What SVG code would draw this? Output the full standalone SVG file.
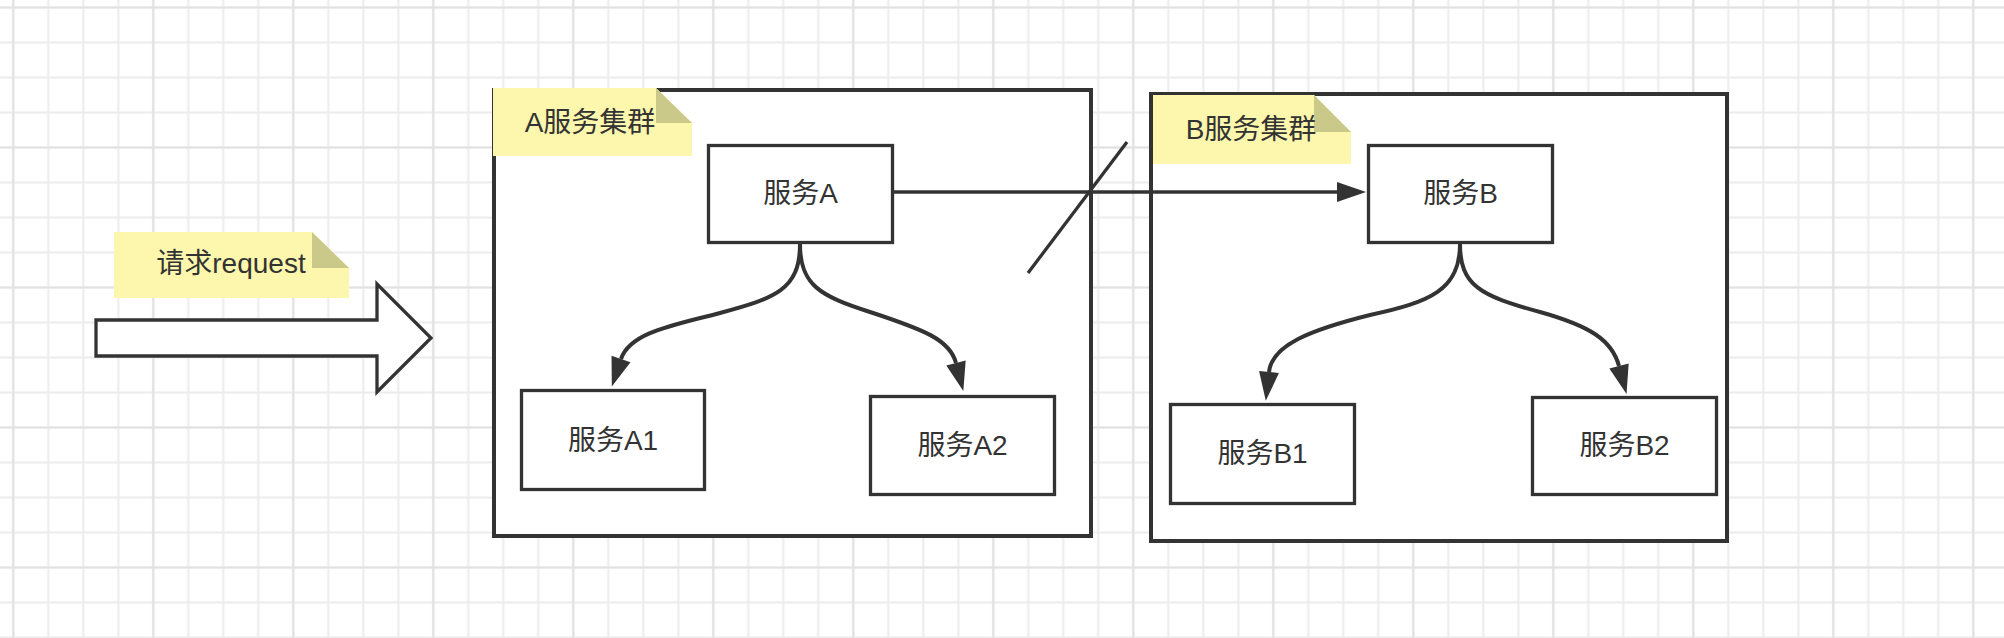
<svg xmlns="http://www.w3.org/2000/svg" width="2004" height="638" viewBox="0 0 2004 638">
  <style>
    .box { fill: #ffffff; stroke: #333333; stroke-width: 3.3; }
    .cluster { fill: #ffffff; stroke: #333333; stroke-width: 4; }
    .note { fill: #fcf7ad; stroke: none; }
    .fold { fill: #cbc98a; stroke: none; }
    .lbl { font-family: "Liberation Sans", "Noto Sans CJK SC", sans-serif; font-size: 28px; fill: #333333; text-anchor: middle; }
    .edge { fill: none; stroke: #333333; stroke-width: 3.3; }
    .curve { fill: none; stroke: #333333; stroke-width: 4; }
  </style>
  <defs>
    <pattern id="gridMinor" patternUnits="userSpaceOnUse" x="-4.2" y="-10" width="35" height="35">
      <path d="M17.5,0 V35 M0,17.5 H35" stroke="#ececec" stroke-width="2" fill="none"/>
    </pattern>
    <pattern id="gridMajor" patternUnits="userSpaceOnUse" x="83.3" y="77.5" width="140" height="140">
      <path d="M70,0 V140 M0,70 H140" stroke="#e2e2e2" stroke-width="2" fill="none"/>
    </pattern>
    <marker id="arrow" markerUnits="userSpaceOnUse" markerWidth="30" markerHeight="22" refX="0" refY="10" orient="auto" overflow="visible">
      <path d="M0,0 L29,10 L0,20 Z" fill="#333333"/>
    </marker>
  </defs>

  <g id="background">
    <rect x="0" y="0" width="2004" height="638" fill="#ffffff"/>
    <rect x="0" y="0" width="2004" height="638" fill="url(#gridMinor)"/>
    <rect x="0" y="0" width="2004" height="638" fill="url(#gridMajor)"/>
  </g>

  <g id="cluster-a">
    <rect class="cluster" x="494" y="90" width="597" height="446"/>
  </g>
  <g id="cluster-b">
    <rect class="cluster" x="1151" y="94" width="576" height="447"/>
  </g>

  <g id="note-a">
    <polygon class="note" points="493,88 656,88 692,123 692,156 493,156"/>
    <polygon class="fold" points="656,88 656,123 692,123"/>
    <text class="lbl" x="590" y="132">A服务集群</text>
  </g>
  <g id="note-b">
    <polygon class="note" points="1153,95 1314,95 1351,132 1351,164 1153,164"/>
    <polygon class="fold" points="1314,95 1314,132 1351,132"/>
    <text class="lbl" x="1251" y="139">B服务集群</text>
  </g>
  <g id="note-request">
    <polygon class="note" points="114,232 312,232 349,268 349,298 114,298"/>
    <polygon class="fold" points="312,232 312,268 349,268"/>
    <text class="lbl" x="231" y="273">请求request</text>
  </g>

  <g id="request-arrow">
    <polygon points="96,320 377,320 377,284 431,338 377,392 377,356 96,356" fill="#ffffff" stroke="#333333" stroke-width="3.3" stroke-linejoin="miter"/>
  </g>

  <g id="service-a">
    <rect class="box" x="708.5" y="145.5" width="184" height="97"/>
    <text class="lbl" x="800.5" y="203">服务A</text>
  </g>
  <g id="service-a1">
    <rect class="box" x="521.5" y="390.5" width="183" height="99"/>
    <text class="lbl" x="613" y="450">服务A1</text>
  </g>
  <g id="service-a2">
    <rect class="box" x="870.5" y="396.5" width="184" height="98"/>
    <text class="lbl" x="962.5" y="455">服务A2</text>
  </g>
  <g id="service-b">
    <rect class="box" x="1368.5" y="145.5" width="184" height="97"/>
    <text class="lbl" x="1460.5" y="203">服务B</text>
  </g>
  <g id="service-b1">
    <rect class="box" x="1170.5" y="404.5" width="184" height="99"/>
    <text class="lbl" x="1262.5" y="463">服务B1</text>
  </g>
  <g id="service-b2">
    <rect class="box" x="1532.5" y="397.5" width="184" height="97"/>
    <text class="lbl" x="1624.5" y="455">服务B2</text>
  </g>

  <g id="connectors">
    <path class="curve" d="M800,244 C800,290 775,298 720,313 C675,325 630,332 621,359" marker-end="url(#arrow)"/>
    <path class="curve" d="M800,244 C800,285 820,296 870,312 C925,330 950,340 956,363" marker-end="url(#arrow)"/>
    <path class="curve" d="M1460,244 C1460,290 1430,302 1370,315 C1310,330 1272,345 1269,372" marker-end="url(#arrow)"/>
    <path class="curve" d="M1460,244 C1460,285 1480,296 1540,312 C1590,326 1612,340 1619,366" marker-end="url(#arrow)"/>
    <path class="edge" d="M894,192 L1337,192" marker-end="url(#arrow)"/>
    <line class="edge" x1="1127" y1="142" x2="1028" y2="273"/>
  </g>
</svg>
